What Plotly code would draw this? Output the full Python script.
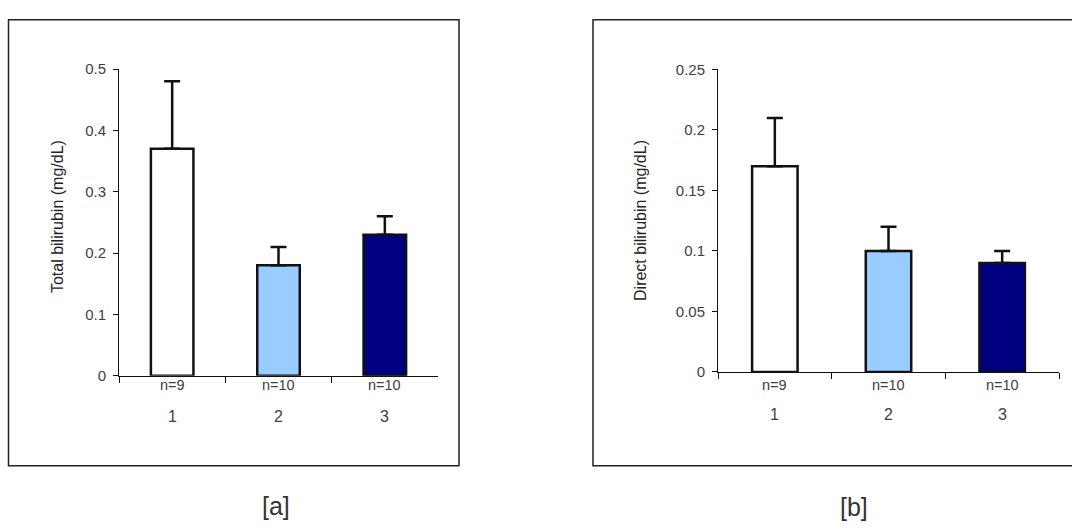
import plotly.graph_objects as go

# ---- data ----
groups = ["1", "2", "3"]
n_labels = ["n=9", "n=10", "n=10"]
total_bili = [0.37, 0.18, 0.23]
total_err = [0.11, 0.03, 0.03]
direct_bili = [0.17, 0.10, 0.09]
direct_err = [0.04, 0.02, 0.01]
bar_colors = ["#FFFFFF", "#99CCFF", "#000080"]

W, H = 1072, 529
def px(x): return x / W
def py(y): return (H - y) / H

fig = go.Figure()

for vals, errs, xa, ya in [(total_bili, total_err, "x", "y"), (direct_bili, direct_err, "x2", "y2")]:
    fig.add_trace(go.Bar(
        x=groups, y=vals, width=0.4,
        marker=dict(color=bar_colors, line=dict(color="#111111", width=2.5)),
        error_y=dict(type="data", symmetric=False, array=errs, arrayminus=[0]*len(errs),
                     color="#111111", thickness=2.5, width=8),
        xaxis=xa, yaxis=ya, showlegend=False,
    ))

FONT = "Liberation Sans, Arial, sans-serif"
tickfont = dict(family=FONT, size=15, color="#404040")
xcommon = dict(type="category", range=[-0.5, 2.5], showline=True, linecolor="#111111", linewidth=1,
               ticks="outside", tickson="boundaries", ticklen=6, tickcolor="#111111",
               showticklabels=False, showgrid=False, zeroline=False, fixedrange=True)
ycommon = dict(showline=True, linecolor="#111111", linewidth=1, ticks="outside", ticklen=5,
               tickcolor="#111111", tickfont=tickfont, showgrid=False, zeroline=False,
               ticklabelstandoff=4)

fig.update_layout(
    width=W, height=H, margin=dict(l=0, r=0, t=0, b=0),
    paper_bgcolor="white", plot_bgcolor="rgba(0,0,0,0)",
    xaxis=dict(domain=[px(119), px(438)], anchor="y", **xcommon),
    yaxis=dict(domain=[py(379), py(62)], anchor="x", range=[0, 0.5], dtick=0.1, **ycommon),
    xaxis2=dict(domain=[px(718), px(1059)], anchor="y2", **xcommon),
    yaxis2=dict(domain=[py(375), py(62.5)], anchor="x2", range=[0, 0.25], dtick=0.05, **ycommon),
    bargap=0.6,
)

# frames
fig.add_shape(type="rect", xref="paper", yref="paper", x0=px(8.5), x1=px(459), y0=py(472), y1=py(11),
              line=dict(color="#222222", width=1.5), fillcolor="rgba(0,0,0,0)", layer="below")
fig.add_shape(type="rect", xref="paper", yref="paper", x0=px(593), x1=px(1090), y0=py(472), y1=py(11),
              line=dict(color="#222222", width=1.5), fillcolor="rgba(0,0,0,0)", layer="below")

ann = []
lab_font = dict(family=FONT, size=14.5, color="#404040")
num_font = dict(family=FONT, size=16, color="#404040")
for xa, ny, gy in [("x", 389, 421), ("x2", 388, 419)]:
    for i, (g, nl) in enumerate(zip(groups, n_labels)):
        ann.append(dict(x=i, y=py(ny), xref=xa, yref="paper", text=nl, showarrow=False,
                        font=lab_font, xanchor="center", yanchor="middle"))
        ann.append(dict(x=i, y=py(gy), xref=xa, yref="paper", text=g, showarrow=False,
                        font=num_font, xanchor="center", yanchor="middle"))

title_font = dict(family=FONT, size=16, color="#222222")
ann.append(dict(x=px(57), y=py(215), xref="paper", yref="paper", text="Total bilirubin (mg/dL)",
                textangle=-90, showarrow=False, font=title_font, xanchor="center", yanchor="middle"))
ann.append(dict(x=px(641), y=py(219), xref="paper", yref="paper", text="Direct bilirubin (mg/dL)",
                textangle=-90, showarrow=False, font=title_font, xanchor="center", yanchor="middle"))

panel_font = dict(family=FONT, size=25, color="#333333")
ann.append(dict(x=px(276), y=py(513), xref="paper", yref="paper", text="[a]", showarrow=False,
                font=panel_font, xanchor="center", yanchor="middle"))
ann.append(dict(x=px(854), y=py(515), xref="paper", yref="paper", text="[b]", showarrow=False,
                font=panel_font, xanchor="center", yanchor="middle"))

fig.update_layout(annotations=ann)

fig.write_html("out.html")
